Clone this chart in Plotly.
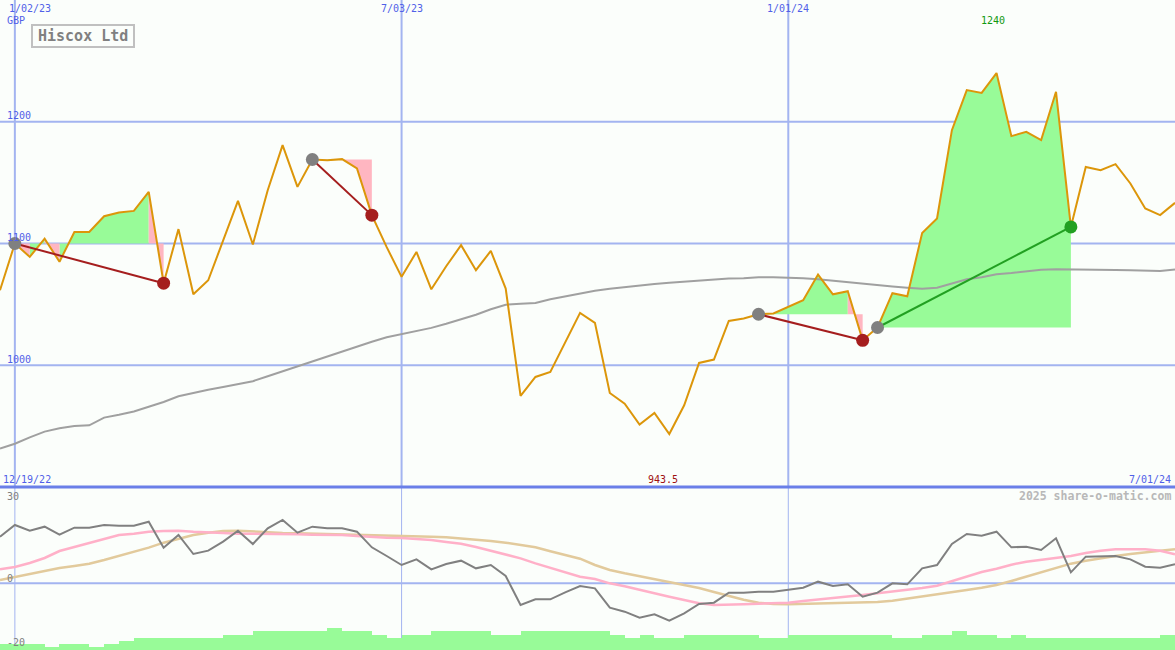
import plotly.graph_objects as go
import pandas as pd

W, H = 1175, 650
BG = "#FBFEFB"
GRID = "#A3B4F0"
BLUE_TXT = "#5060E8"
MONO = "DejaVu Sans Mono"

# ---------------- data ----------------
dates = pd.date_range("2022-12-26", periods=80, freq="7D")
x_start, x_end = "2022-12-26", "2024-07-01"
grid_dates = ["2023-01-02", "2023-07-03", "2024-01-01"]
grid_labels = ["1/02/23", "7/03/23", "1/01/24"]
price_ticks = [1000, 1100, 1200]
ind_ticks = [30, 0, -20]

price = [1061.6, 1100.0, 1089.0, 1104.0, 1085.0, 1109.5, 1109.5, 1122.4, 1125.5, 1126.8,
         1142.4, 1067.4, 1111.8, 1058.3, 1069.8, 1102.7, 1135.0, 1099.2, 1143.8, 1180.8,
         1146.5, 1169.0, 1168.4, 1169.3, 1161.6, 1123.3, 1097.0, 1072.6, 1093.1, 1062.4,
         1081.3, 1098.6, 1078.1, 1093.9, 1063.0, 974.8, 990.4, 994.5, 1019.1, 1043.0,
         1034.8, 977.2, 968.5, 951.3, 960.8, 943.5, 967.1, 1001.9, 1004.7, 1036.4,
         1038.4, 1041.9, 1042.5, 1047.9, 1053.4, 1074.5, 1058.3, 1060.8, 1020.5, 1031.0,
         1059.2, 1056.7, 1108.7, 1120.5, 1193.1, 1226.0, 1223.7, 1240.0, 1188.2, 1191.7,
         1184.9, 1224.6, 1113.6, 1162.9, 1160.2, 1165.2, 1149.3, 1128.8, 1123.3, 1133.4]

ma_long = [931.6, 935.5, 940.8, 945.5, 948.2, 950.1, 950.7, 957.0, 959.3, 962.0,
           965.9, 969.8, 974.5, 977.4, 979.9, 982.2, 984.6, 986.9, 991.0, 995.1,
           999.2, 1003.3, 1007.4, 1011.5, 1015.6, 1019.3, 1023.0, 1025.5, 1027.9, 1030.7,
           1034.1, 1037.8, 1041.5, 1046.0, 1049.7, 1050.5, 1051.2, 1054.2, 1056.7, 1058.8,
           1061.2, 1062.9, 1064.3, 1065.7, 1066.7, 1067.8, 1068.8, 1069.4, 1070.4, 1071.2,
           1071.5, 1072.3, 1072.3, 1072.1, 1071.5, 1070.7, 1069.4, 1068.2, 1067.4, 1065.7,
           1064.7, 1063.7, 1062.9, 1063.7, 1067.4, 1070.7, 1072.3, 1074.8, 1075.8, 1077.0,
           1078.5, 1078.9, 1078.6, 1078.6, 1078.5, 1078.2, 1078.1, 1077.8, 1077.5, 1078.6]

buy_idx = [1, 21, 51, 59]
sell_idx = [11, 25, 58, 72]

momentum = [14.0, 17.5, 15.8, 17.0, 14.6, 16.7, 16.7, 17.5, 17.3, 17.3,
            18.5, 10.7, 14.5, 8.8, 9.8, 12.5, 15.8, 11.8, 16.5, 19.0,
            15.2, 17.0, 16.5, 16.5, 15.5, 10.8, 8.2, 5.5, 7.2, 4.2,
            5.8, 6.8, 4.5, 5.5, 2.2, -6.5, -4.8, -4.8, -2.7, -0.8,
            -1.5, -7.3, -8.5, -10.3, -9.3, -11.2, -9.0, -6.2, -5.8, -2.8,
            -2.8, -2.5, -2.5, -1.8, -1.3, 0.5, -0.8, -0.3, -4.0, -2.8,
            0.0, -0.3, 4.5, 5.5, 11.8, 14.8, 14.3, 15.5, 10.8, 11.0,
            10.0, 13.5, 3.3, 8.0, 8.0, 8.2, 7.2, 5.0, 4.7, 5.7]

signal_fast = [4.2, 4.9, 6.1, 7.6, 9.7, 10.9, 12.2, 13.4, 14.5, 14.9,
               15.5, 15.7, 15.8, 15.5, 15.2, 15.1, 14.9, 14.9, 14.8, 14.8,
               14.7, 14.6, 14.6, 14.5, 14.2, 13.9, 13.7, 13.6, 13.3, 13.0,
               12.4, 11.9, 10.9, 9.8, 8.8, 7.5, 6.0, 4.7, 3.3, 2.0,
               1.3, 0.0, -0.9, -2.0, -3.0, -4.0, -5.0, -6.0, -6.5, -6.5,
               -6.3, -6.1, -6.0, -5.8, -5.3, -4.9, -4.3, -3.9, -3.5, -3.0,
               -2.5, -2.0, -1.4, -0.7, 0.7, 2.0, 3.4, 4.4, 5.6, 6.5,
               7.1, 7.6, 8.2, 9.1, 9.8, 10.2, 10.2, 10.2, 9.8, 8.7]

signal_slow = [1.0, 1.9, 2.6, 3.5, 4.6, 5.2, 5.9, 7.0, 8.2, 9.5,
               10.7, 12.2, 13.4, 14.5, 15.2, 15.7, 15.8, 15.5, 15.2, 15.1,
               15.0, 14.9, 14.9, 14.8, 14.7, 14.6, 14.5, 14.3, 14.2, 14.0,
               13.8, 13.5, 13.1, 12.7, 12.2, 11.6, 10.8, 9.6, 8.4, 7.4,
               5.5, 4.0, 3.0, 2.1, 1.3, 0.4, -0.4, -1.4, -2.6, -3.8,
               -4.9, -5.8, -6.2, -6.3, -6.2, -6.1, -6.1, -6.0, -5.8, -5.6,
               -5.2, -4.6, -3.8, -3.2, -2.6, -2.0, -1.3, -0.5, 0.7, 2.0,
               3.5, 4.7, 5.9, 6.8, 7.6, 8.2, 8.8, 9.4, 9.8, 10.2]

hist = [1.8, 1.8, 1.8, 1.0, 1.8, 1.8, 1.0, 1.8, 2.7, 3.7,
        3.7, 3.7, 3.7, 3.7, 3.7, 4.5, 4.5, 5.7, 5.7, 5.7,
        5.7, 5.7, 6.5, 5.7, 5.7, 4.5, 3.7, 4.5, 4.5, 5.7,
        5.7, 5.7, 5.7, 4.5, 4.5, 5.7, 5.7, 5.7, 5.7, 5.7,
        5.7, 4.5, 3.7, 4.5, 3.7, 3.7, 4.5, 4.5, 4.5, 4.5,
        4.5, 3.7, 3.7, 4.5, 4.5, 4.5, 4.5, 4.5, 4.5, 4.5,
        3.7, 3.7, 4.5, 4.5, 5.7, 4.5, 4.5, 3.7, 4.5, 3.7,
        3.7, 3.7, 3.7, 3.7, 3.7, 3.7, 3.7, 3.7, 4.5, 4.5]

IND_MIN, IND_MAX = -20, 28.9
SPLIT = 163 / H


def px(x):
    return x / W


def py(y):
    return 1 - y / H


fig = go.Figure()

# histogram in lower panel
fig.add_trace(go.Bar(x=dates, y=hist, base=IND_MIN, width=7 * 86400000, offset=0,
                     marker=dict(color="#98FB98", line=dict(width=0)),
                     xaxis="x2", yaxis="y2", hoverinfo="skip"))

# trade fills
gx, gy, rx, ry = [], [], [], []
for b, s in zip(buy_idx, sell_idx):
    entry = price[b]
    for k in range(b, s):
        poly_x = [dates[k], dates[k], dates[k + 1], dates[k + 1], dates[k], None]
        poly_y = [entry, price[k], price[k + 1], entry, entry, None]
        if price[k + 1] >= entry:
            gx += poly_x; gy += poly_y
        else:
            rx += poly_x; ry += poly_y
fig.add_trace(go.Scatter(x=gx, y=gy, fill="toself", fillcolor="#98FB98", mode="none",
                         hoverinfo="skip"))
fig.add_trace(go.Scatter(x=rx, y=ry, fill="toself", fillcolor="#FFB6C1", mode="none",
                         hoverinfo="skip"))

# long moving average
fig.add_trace(go.Scatter(x=dates, y=ma_long, mode="lines",
                         line=dict(color="#A0A0A0", width=2)))
# price
fig.add_trace(go.Scatter(x=dates, y=price, mode="lines",
                         line=dict(color="#DC960A", width=2)))

# trade lines and markers
for b, s in zip(buy_idx, sell_idx):
    win = price[s] > price[b]
    col = "#22A022" if win else "#A51E1E"
    fig.add_trace(go.Scatter(x=[dates[b], dates[s]], y=[price[b], price[s]], mode="lines",
                             line=dict(color=col, width=2)))
    fig.add_trace(go.Scatter(x=[dates[s]], y=[price[s]], mode="markers",
                             marker=dict(color=col, size=13)))
    fig.add_trace(go.Scatter(x=[dates[b]], y=[price[b]], mode="markers",
                             marker=dict(color="#808080", size=13)))

# lower indicator lines
fig.add_trace(go.Scatter(x=dates, y=signal_slow, mode="lines", xaxis="x2", yaxis="y2",
                         line=dict(color="#E2CA9C", width=2.5)))
fig.add_trace(go.Scatter(x=dates, y=signal_fast, mode="lines", xaxis="x2", yaxis="y2",
                         line=dict(color="#FFB0C8", width=2.5)))
fig.add_trace(go.Scatter(x=dates, y=momentum, mode="lines", xaxis="x2", yaxis="y2",
                         line=dict(color="#808080", width=2)))

shapes = []
for v in price_ticks:
    shapes.append(dict(type="line", xref="paper", yref="y", x0=0, x1=1, y0=v, y1=v,
                       line=dict(color=GRID, width=2), layer="below"))
shapes.append(dict(type="line", xref="paper", yref="y2", x0=0, x1=1, y0=0, y1=0,
                   line=dict(color=GRID, width=2), layer="below"))
for d in grid_dates:
    shapes.append(dict(type="line", xref="x", yref="paper", x0=d, x1=d, y0=SPLIT, y1=1,
                       line=dict(color=GRID, width=2), layer="below"))
    shapes.append(dict(type="line", xref="x", yref="paper", x0=d, x1=d, y0=0, y1=SPLIT,
                       line=dict(color=GRID, width=1), layer="below"))
shapes.append(dict(type="line", xref="paper", yref="paper", x0=0, x1=1, y0=py(487), y1=py(487),
                   line=dict(color="#6A7FE8", width=3)))
shapes.append(dict(type="rect", xref="paper", yref="paper", x0=px(32), x1=px(134),
                   y0=py(47), y1=py(25), line=dict(color="#C0C0C0", width=2), fillcolor=BG))

ann = []


def txt(text, x, y, color, size=10, xanchor="left", xref="paper", xshift=0, bold=False):
    ann.append(dict(text=("<b>%s</b>" % text) if bold else text, x=x, y=py(y), xref=xref,
                    yref="paper", xanchor=xanchor, yanchor="middle", showarrow=False,
                    xshift=xshift, font=dict(family=MONO, size=size, color=color)))


txt("Hiscox Ltd", px(83), 36, "#808080", size=15, xanchor="center", bold=True)
txt(grid_labels[0], px(7), 8, BLUE_TXT)
for d, lab in zip(grid_dates[1:], grid_labels[1:]):
    txt(lab, d, 8, BLUE_TXT, xanchor="center", xref="x")
txt("GBP", px(5), 20, BLUE_TXT)
for v in price_ticks:
    ypix = (1300 - v) / 400 * 487
    txt(str(v), px(5), ypix - 6, BLUE_TXT)
imax = price.index(max(price))
imin = price.index(min(price))
txt("%g" % max(price), dates[imax], 21, "#119911", xanchor="center", xref="x", xshift=-4)
txt("%g" % min(price), dates[imin], 479, "#A01010", xanchor="center", xref="x", xshift=-6)
txt("12/19/22", px(1), 479, BLUE_TXT)
txt("7/01/24", px(1173), 479, BLUE_TXT, xanchor="right")
txt("2025 share-o-matic.com", px(1173), 496, "#B8B8B8", size=11.5, xanchor="right", bold=True)
for v, ypix in zip(ind_ticks, [496, 578, 642]):
    txt(str(v), px(5), ypix, "#808080")

fig.update_layout(
    width=W, height=H, margin=dict(l=0, r=0, t=0, b=0),
    paper_bgcolor=BG, plot_bgcolor=BG, showlegend=False,
    xaxis=dict(domain=[0, 1], range=[x_start, x_end], visible=False, anchor="y"),
    xaxis2=dict(domain=[0, 1], range=[x_start, x_end], visible=False, anchor="y2", matches="x"),
    yaxis=dict(domain=[SPLIT, 1], range=[900, 1300], visible=False),
    yaxis2=dict(domain=[0, SPLIT], range=[IND_MIN, IND_MAX], visible=False),
    shapes=shapes, annotations=ann, bargap=0,
)

fig.write_html("out.html", config={"displayModeBar": False},
               post_script="document.body.style.margin='0';document.body.style.overflow='hidden';")
